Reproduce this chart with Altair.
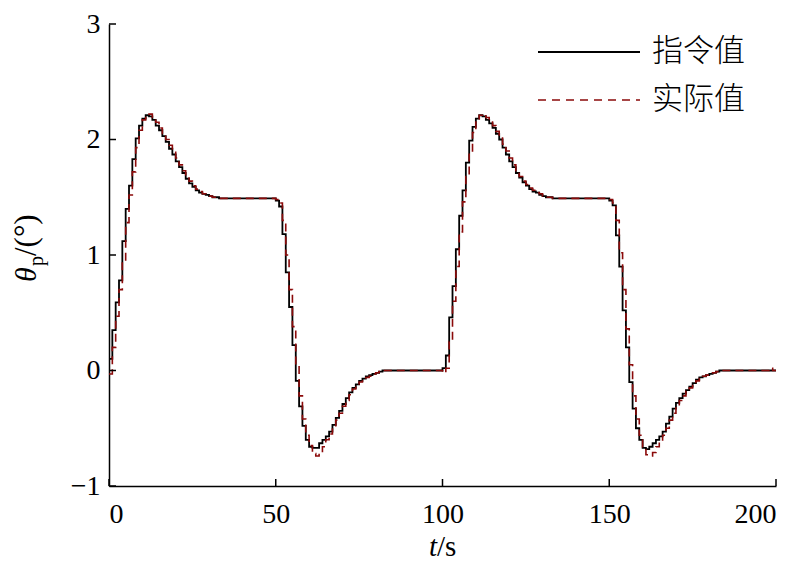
import altair as alt
import pandas as pd

# ---- data ----
cmd_t = [0, 1, 2, 3, 4, 5, 6, 7, 8, 9, 10, 11, 12, 13, 14, 15, 16, 17, 18, 19, 20,
         21, 22, 23, 24, 25, 26, 27, 28, 29, 30, 31, 33, 49, 50, 51, 52, 53, 54, 55,
         56, 57, 58, 59, 60, 61, 62, 63, 64, 65, 66, 67, 68, 69, 70, 71, 72, 73, 74,
         75, 76, 77, 78, 79, 80, 81, 82, 99,
         100, 101, 102, 103, 104, 105, 106, 107, 108, 109, 110, 111, 112, 113, 114,
         115, 116, 117, 118, 119, 120, 121, 122, 123, 124, 125, 126, 127, 128, 129,
         130, 131, 133, 149, 150, 151, 152, 153, 154, 155, 156, 157, 158, 159, 160,
         161, 162, 163, 164, 165, 166, 167, 168, 169, 170, 171, 172, 173, 174, 175,
         176, 177, 178, 179, 180, 181, 182, 183, 200]
cmd_v = [0.10, 0.35, 0.59, 0.78, 1.12, 1.40, 1.60, 1.83, 2.01, 2.12, 2.18, 2.21, 2.20,
         2.17, 2.12, 2.08, 2.03, 1.98, 1.92, 1.87, 1.81, 1.76, 1.71, 1.66, 1.62, 1.59,
         1.56, 1.54, 1.53, 1.52, 1.51, 1.50, 1.49, 1.49, 1.47, 1.42, 1.18, 0.85, 0.55,
         0.22, -0.09, -0.31, -0.48, -0.60, -0.66, -0.67, -0.67, -0.63, -0.60, -0.57,
         -0.53, -0.47, -0.41, -0.35, -0.29, -0.24, -0.19, -0.15, -0.12, -0.09, -0.07,
         -0.05, -0.04, -0.03, -0.02, -0.01, 0.00, 0.00,
         0.02, 0.13, 0.46, 0.73, 1.05, 1.34, 1.56, 1.80, 1.99, 2.11, 2.18, 2.21, 2.20,
         2.17, 2.14, 2.10, 2.05, 2.00, 1.93, 1.87, 1.81, 1.76, 1.71, 1.67, 1.63, 1.60,
         1.57, 1.55, 1.54, 1.52, 1.51, 1.50, 1.49, 1.49, 1.47, 1.43, 1.17, 0.90, 0.52,
         0.20, -0.10, -0.33, -0.50, -0.60, -0.67, -0.68, -0.66, -0.63, -0.60, -0.57,
         -0.53, -0.46, -0.40, -0.33, -0.28, -0.24, -0.20, -0.17, -0.14, -0.11, -0.08,
         -0.06, -0.05, -0.04, -0.03, -0.02, -0.01, 0.00, 0.00]

act_t = [0, 1, 2, 3, 4, 5, 6, 7, 8, 9, 10, 11, 12, 13, 14, 15, 16, 17, 18, 19, 20,
         21, 22, 23, 24, 25, 26, 27, 28, 29, 30, 31, 33, 49, 50, 51, 52, 53, 54, 55,
         56, 57, 58, 59, 60, 61, 62, 63, 64, 65, 66, 67, 68, 69, 70, 71, 72, 73, 74,
         75, 76, 77, 78, 79, 80, 81, 82, 99,
         100, 101, 102, 103, 104, 105, 106, 107, 108, 109, 110, 111, 112, 113, 114,
         115, 116, 117, 118, 119, 120, 121, 122, 123, 124, 125, 126, 127, 128, 129,
         130, 131, 133, 149, 150, 151, 152, 153, 154, 155, 156, 157, 158, 159, 160,
         161, 162, 163, 164, 165, 166, 167, 168, 169, 170, 171, 172, 173, 174, 175,
         176, 177, 178, 179, 180, 181, 182, 183, 197, 198, 199, 200]
act_v = [-0.03, 0.20, 0.47, 0.70, 0.95, 1.28, 1.52, 1.72, 1.93, 2.08, 2.17, 2.21, 2.22,
         2.19, 2.15, 2.10, 2.05, 2.00, 1.95, 1.89, 1.84, 1.78, 1.73, 1.68, 1.64, 1.60,
         1.57, 1.55, 1.53, 1.52, 1.51, 1.50, 1.49, 1.49, 1.48, 1.45, 1.30, 1.00, 0.70,
         0.38, 0.05, -0.22, -0.42, -0.56, -0.65, -0.72, -0.74, -0.71, -0.66, -0.60,
         -0.55, -0.49, -0.43, -0.37, -0.31, -0.26, -0.21, -0.16, -0.13, -0.10, -0.08,
         -0.06, -0.05, -0.03, -0.02, -0.01, 0.00, 0.00,
         -0.02, 0.02, 0.25, 0.60, 0.90, 1.20, 1.46, 1.68, 1.90, 2.06, 2.16, 2.21, 2.22,
         2.19, 2.16, 2.12, 2.07, 2.02, 1.96, 1.90, 1.84, 1.78, 1.73, 1.68, 1.64, 1.61,
         1.58, 1.56, 1.54, 1.53, 1.51, 1.50, 1.49, 1.49, 1.48, 1.45, 1.30, 1.02, 0.70,
         0.36, 0.05, -0.22, -0.42, -0.56, -0.66, -0.73, -0.74, -0.71, -0.66, -0.61,
         -0.56, -0.50, -0.43, -0.37, -0.31, -0.26, -0.22, -0.18, -0.15, -0.12, -0.09,
         -0.07, -0.05, -0.04, -0.03, -0.02, -0.01, 0.00, 0.00, 0.02, 0.00, 0.00]

x_ticks = [0, 50, 100, 150, 200]
y_ticks = [-1, 0, 1, 2, 3]
legend_labels = ["指令值", "实际值"]

W, H = 667, 462
RED = "#8b0a0a"
SERIF = "Liberation Serif"

xs = alt.Scale(domain=[0, 200], nice=False, zero=False)
ys = alt.Scale(domain=[-1, 3], nice=False, zero=False)

cmd_df = pd.DataFrame({"t": cmd_t, "v": cmd_v})
act_df = pd.DataFrame({"t": act_t, "v": act_v})

x_axis = alt.Axis(values=x_ticks, format="d", ticks=False, grid=False, labelPadding=14,
                  labelFont=SERIF, labelFontSize=28, labelColor="black",
                  domainColor="black", domainWidth=1.5, title="")
y_axis = alt.Axis(values=y_ticks, format="d", ticks=False, grid=False, labelPadding=9,
                  labelFont=SERIF, labelFontSize=28, labelColor="black",
                  domainColor="black", domainWidth=1.5, title="")

cmd_line = alt.Chart(cmd_df).mark_line(color="black", strokeWidth=1.8,
                                       interpolate="step-after").encode(
    x=alt.X("t:Q", scale=xs, axis=x_axis),
    y=alt.Y("v:Q", scale=ys, axis=y_axis),
)
act_line = alt.Chart(act_df).mark_line(color=RED, strokeWidth=1.6, strokeDash=[8, 5],
                                       interpolate="step-after").encode(
    x=alt.X("t:Q", scale=xs, axis=x_axis),
    y=alt.Y("v:Q", scale=ys, axis=y_axis),
)

# inward ticks
xt = alt.Chart(pd.DataFrame({"t": x_ticks})).mark_rule(color="black", strokeWidth=1.5).encode(
    x=alt.X("t:Q", scale=xs, axis=x_axis), y=alt.value(H), y2=alt.value(H - 7))
yt = alt.Chart(pd.DataFrame({"v": y_ticks})).mark_rule(color="black", strokeWidth=1.5).encode(
    y=alt.Y("v:Q", scale=ys, axis=y_axis), x=alt.value(0), x2=alt.value(7))

# legend (pixel offsets from the plot's top-left corner)
leg_black = alt.Chart(pd.DataFrame({"k": [0]})).mark_rule(color="black", strokeWidth=1.8).encode(
    x=alt.value(429), x2=alt.value(531), y=alt.value(28))
leg_red = alt.Chart(pd.DataFrame({"k": [0]})).mark_rule(color=RED, strokeWidth=1.6, strokeDash=[8, 6]).encode(
    x=alt.value(429), x2=alt.value(531), y=alt.value(76))
leg_txt = alt.Chart(pd.DataFrame({"lab": legend_labels, "py": [28, 76]})).mark_text(
    align="left", baseline="middle", font="Noto Sans CJK SC", fontSize=31, fontWeight=300,
    color="black").encode(
    x=alt.value(543), y=alt.Y("py:Q", scale=None), text="lab:N")

# axis titles
xt1 = alt.Chart(pd.DataFrame({"s": ["t"]})).mark_text(
    align="right", baseline="alphabetic", font=SERIF, fontSize=29, fontStyle="italic",
    color="black").encode(x=alt.value(328), y=alt.value(532), text="s:N")
xt2 = alt.Chart(pd.DataFrame({"s": ["/s"]})).mark_text(
    align="left", baseline="alphabetic", font=SERIF, fontSize=29, color="black").encode(
    x=alt.value(328), y=alt.value(532), text="s:N")

yt1 = alt.Chart(pd.DataFrame({"s": ["θ"]})).mark_text(
    align="left", baseline="alphabetic", font=SERIF, fontSize=30, fontStyle="italic",
    angle=270, color="black").encode(x=alt.value(-73), y=alt.value(258), text="s:N")
yt2 = alt.Chart(pd.DataFrame({"s": ["p"]})).mark_text(
    align="left", baseline="alphabetic", font=SERIF, fontSize=20,
    angle=270, color="black").encode(x=alt.value(-66), y=alt.value(242), text="s:N")
yt3 = alt.Chart(pd.DataFrame({"s": ["/(°)"]})).mark_text(
    align="left", baseline="alphabetic", font=SERIF, fontSize=31,
    angle=270, color="black").encode(x=alt.value(-73), y=alt.value(232), text="s:N")

chart = alt.layer(
    cmd_line, act_line, xt, yt, leg_black, leg_red, leg_txt, xt1, xt2, yt1, yt2, yt3
).properties(
    width=W, height=H,
    autosize=alt.AutoSizeParams(type="none"),
    padding={"left": 101, "top": 16, "right": 16, "bottom": 90},
).configure(background="white").configure_view(stroke=None).configure_axis(
    labelFont=SERIF, labelFontSize=28, labelColor="black"
)

chart.save("out.html", embed_options={"renderer": "svg", "actions": False})
